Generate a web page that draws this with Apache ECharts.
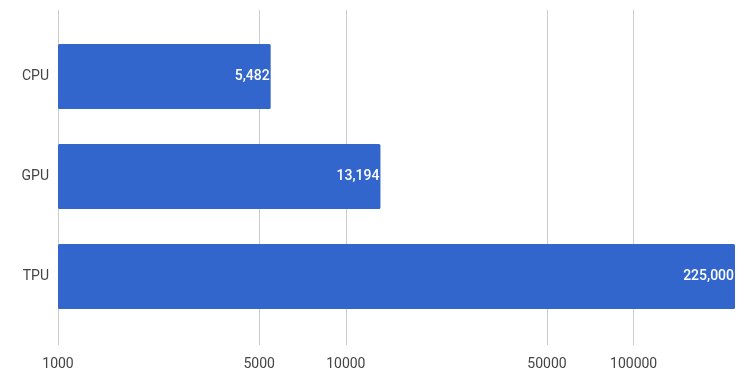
<!DOCTYPE html>
<html>
<head>
<meta charset="utf-8">
<script src="https://cdn.jsdelivr.net/npm/echarts@6/dist/echarts.min.js"></script>
<style>
  html, body { margin: 0; padding: 0; background: #fff; }
  #chart { width: 752px; height: 381px; }
</style>
</head>
<body>
<div id="chart"></div>
<script>
// data
const categories = ['CPU', 'GPU', 'TPU']
const values = [5482, 13194, 225000]
const tickValues = [1000, 5000, 10000, 50000, 100000]
const axisMin = 1000
const axisMax = 225000

const chart = echarts.init(document.getElementById('chart'))

const labelFont = { fontFamily: 'Roboto', fontSize: 14, color: '#444' }

chart.setOption({
  animation: false,
  grid: [
    // bars
    { left: 58, right: 17, top: 26.5, height: 300 },
    // gridlines + x labels
    { left: 58, right: 17, top: 10, bottom: 36 }
  ],
  xAxis: [
    {
      gridIndex: 0, type: 'log', min: axisMin, max: axisMax, startValue: axisMin,
      axisLine: { show: false }, axisTick: { show: false },
      axisLabel: { show: false }, splitLine: { show: false }
    },
    {
      gridIndex: 1, type: 'log', min: axisMin, max: axisMax,
      axisLine: { show: false },
      axisTick: { show: false, customValues: tickValues },
      axisLabel: {
        ...labelFont, margin: 12, customValues: tickValues,
        formatter: v => String(Math.round(v))
      },
      splitLine: { show: true, lineStyle: { color: '#cccccc', width: 1 } }
    }
  ],
  yAxis: [
    {
      gridIndex: 0, type: 'category', data: categories, inverse: true,
      axisLine: { show: false }, axisTick: { show: false },
      axisLabel: { ...labelFont, margin: 9 }
    },
    {
      gridIndex: 1, type: 'category', data: categories, show: false
    }
  ],
  series: [{
    type: 'bar',
    xAxisIndex: 0, yAxisIndex: 0,
    data: values,
    barWidth: '65%',
    itemStyle: { color: '#3366cc', borderRadius: 1.5 },
    label: {
      show: true, position: 'insideRight', distance: 1,
      fontFamily: 'Roboto', fontSize: 14, fontWeight: 500, color: '#fff',
      formatter: p => p.value.toLocaleString('en-US')
    }
  }]
})
</script>
</body>
</html>
